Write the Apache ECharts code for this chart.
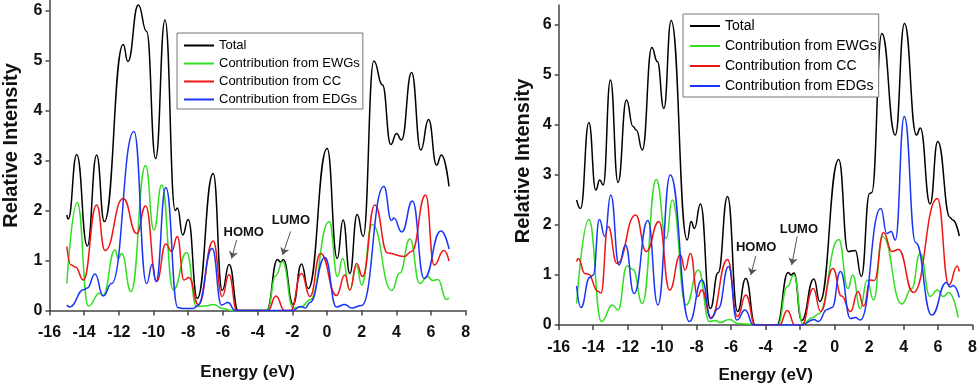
<!DOCTYPE html>
<html>
<head>
<meta charset="utf-8">
<script src="https://cdn.jsdelivr.net/npm/echarts@6.0.0/dist/echarts.min.js"></script>
<style>
  html, body { margin: 0; padding: 0; background: #fff; }
  #chart { width: 980px; height: 389px; }
</style>
</head>
<body>
<div id="chart"></div>
<script>
// 左图 [能量 eV, 相对强度]
const leftTotal = [[-15.0,1.91],[-14.92,1.83],[-14.43,3.12],[-13.82,1.29],[-13.28,3.11],[-12.84,1.78],[-11.75,5.32],[-11.48,4.98],[-10.88,6.11],[-10.4,5.58],[-9.88,3.04],[-9.34,5.81],[-8.75,2.0],[-8.62,2.05],[-8.32,1.51],[-8.0,1.82],[-7.48,0.24],[-6.56,2.74],[-6.04,0.4],[-5.64,0.92],[-5.12,0],[-3.48,0],[-2.85,1.02],[-2.68,0.97],[-2.52,1.02],[-1.95,0.12],[-1.47,0.93],[-1.08,0.44],[0.01,3.24],[0.59,1.04],[0.93,1.81],[1.32,0.74],[1.74,1.92],[2.09,1.48],[2.7,4.99],[3.2,4.51],[3.68,3.32],[4.01,3.54],[4.3,3.41],[4.88,4.76],[5.41,3.21],[5.86,3.82],[6.32,2.91],[6.6,3.11],[7.04,2.48]];
const leftEWG = [[-15.0,0.54],[-14.4,2.16],[-13.76,0.09],[-13.1,0.35],[-12.92,0.3],[-12.22,1.21],[-12.03,1.04],[-11.84,1.14],[-11.3,0.38],[-10.46,2.9],[-9.98,1.61],[-9.53,2.51],[-8.86,0.41],[-8.09,1.16],[-7.52,0.08],[-7.0,0.09],[-6.56,0.12],[-6.0,0.04],[-5.5,0],[-3.45,0],[-2.94,0.7],[-2.56,0.98],[-1.95,0.05],[-1.5,0.07],[-0.98,0.21],[0.13,1.78],[0.61,0.68],[0.9,1.04],[1.32,0.41],[1.71,0.89],[2.0,0.51],[2.61,1.72],[3.73,0.4],[4.2,0.75],[4.78,1.43],[5.35,0.54],[5.8,0.68],[6.1,0.6],[6.4,0.62],[6.89,0.22],[7.03,0.25]];
const leftCC = [[-15.0,1.28],[-14.76,0.91],[-14.5,0.87],[-14.05,0.61],[-13.28,2.11],[-12.8,1.2],[-11.75,2.24],[-10.97,1.54],[-10.46,2.09],[-9.82,0.58],[-9.29,1.33],[-8.96,1.18],[-8.63,1.48],[-8.25,0.61],[-7.96,0.66],[-7.42,0.12],[-6.56,1.39],[-6.04,0.28],[-5.65,0.72],[-5.2,0],[-3.4,0],[-2.94,0.29],[-2.45,0],[-2.1,0],[-1.47,0.74],[-0.98,0.28],[-0.37,1.14],[0.55,0.3],[1.03,0.71],[1.32,0.41],[1.71,0.94],[2.05,0.68],[2.76,2.11],[3.5,1.15],[4.45,1.08],[4.88,1.18],[5.69,2.31],[6.18,0.91],[6.74,1.2],[7.04,0.99]];
const leftEDG = [[-15.0,0.11],[-14.85,0.07],[-14.0,0.42],[-13.82,0.45],[-13.38,0.73],[-12.9,0.29],[-12.42,0.54],[-11.13,3.58],[-10.4,0.54],[-10.07,0.93],[-9.86,0.58],[-9.29,2.46],[-8.6,0.06],[-8.3,0.04],[-7.7,0.04],[-7.45,0.1],[-6.62,1.24],[-6.08,0.11],[-5.7,0.16],[-5.3,0],[-2.0,0],[-1.5,0.08],[-1.25,0.05],[-0.98,0.16],[-0.12,1.06],[0.55,0.07],[1.03,0.12],[1.42,0.05],[2.0,0.1],[3.28,2.48],[3.72,1.8],[3.85,1.85],[4.32,1.57],[4.93,2.19],[5.6,0.64],[6.57,1.59],[7.04,1.23]];

// 右图
const rightTotal = [[-14.96,2.5],[-14.73,2.33],[-14.25,4.05],[-13.85,2.7],[-13.62,2.9],[-13.42,2.8],[-13.0,4.9],[-12.56,2.85],[-12.07,4.5],[-11.69,3.97],[-11.5,3.9],[-11.15,3.5],[-10.6,5.55],[-10.28,5.27],[-9.9,4.33],[-9.48,6.09],[-8.55,1.7],[-8.32,2.07],[-8.13,1.93],[-7.78,2.42],[-7.21,0.33],[-6.75,1.05],[-6.21,2.57],[-5.63,0.27],[-5.15,0.93],[-4.6,0],[-3.35,0],[-2.69,1.05],[-2.52,1.0],[-2.36,1.04],[-1.91,0.09],[-1.2,0.92],[-0.86,0.47],[0.24,3.31],[0.78,1.47],[1.2,1.49],[1.55,0.97],[2.03,2.63],[2.15,2.65],[2.74,5.83],[3.52,3.8],[4.05,6.03],[4.75,3.8],[4.97,3.94],[5.54,2.42],[5.98,3.67],[6.7,2.15],[6.85,2.1],[7.23,1.78]];
const rightEWG = [[-14.96,0.43],[-14.25,2.11],[-13.52,0.07],[-12.88,0.4],[-12.56,0.3],[-12.04,1.18],[-11.69,1.11],[-11.15,0.43],[-10.34,2.91],[-9.76,1.73],[-9.42,2.5],[-8.61,0.4],[-7.9,1.1],[-7.26,0.07],[-6.9,0.09],[-6.65,0.05],[-6.1,0.11],[-5.6,0.03],[-4.6,0.01],[-3.3,0],[-2.74,0.77],[-2.36,1.0],[-1.85,0.03],[-1.25,0.15],[-0.95,0.22],[0.24,1.71],[0.78,0.73],[1.05,1.0],[1.49,0.33],[1.88,0.9],[2.26,0.5],[2.78,1.77],[3.9,0.42],[4.47,0.73],[4.96,1.43],[5.54,0.57],[5.96,0.7],[6.3,0.57],[6.63,0.65],[7.17,0.15]];
const rightCC = [[-14.96,1.27],[-14.87,1.33],[-14.48,1.03],[-14.3,1.02],[-13.71,0.67],[-13.55,0.64],[-13.14,1.97],[-12.62,1.23],[-11.54,2.2],[-10.92,1.47],[-10.19,2.07],[-9.57,0.7],[-8.94,1.4],[-8.67,1.1],[-8.36,1.43],[-7.94,0.57],[-7.71,0.7],[-7.17,0.15],[-6.21,1.31],[-5.63,0.17],[-5.15,0.6],[-4.6,0],[-3.2,0],[-2.74,0.29],[-2.3,0],[-1.9,0],[-1.24,0.73],[-0.81,0.27],[-0.1,1.13],[0.4,0.58],[0.92,0.27],[1.36,0.67],[1.69,0.38],[2.07,0.9],[2.3,0.89],[2.84,1.85],[3.32,1.47],[3.7,1.51],[4.57,0.65],[5.96,2.53],[6.63,0.8],[7.11,1.18],[7.23,1.07]];
const rightEDG = [[-14.96,0.78],[-14.71,0.35],[-14.2,0.95],[-14.0,1.0],[-13.64,2.11],[-13.33,1.77],[-12.98,2.6],[-12.5,1.2],[-12.13,1.6],[-11.63,0.63],[-10.83,2.09],[-10.25,0.4],[-9.53,3.0],[-8.42,0.07],[-7.69,0.9],[-7.17,0.13],[-6.75,0.33],[-6.15,1.17],[-5.67,0.1],[-5.19,0.3],[-4.7,0],[-1.9,0],[-1.2,0.11],[-0.95,0.07],[-0.43,0.31],[-0.15,0.35],[0.34,1.07],[0.92,0.13],[1.2,0.15],[1.49,0.1],[2.68,2.33],[3.03,1.83],[3.28,1.87],[3.52,1.7],[4.04,4.17],[4.7,1.65],[5.63,0.2],[6.49,0.85],[6.69,0.76],[6.88,0.79],[7.23,0.55]];

const seriesNames = ['Total', 'Contribution from EWGs', 'Contribution from CC', 'Contribution from EDGs'];
const yTicks = [0, 1, 2, 3, 4, 5, 6];

// HOMO / LUMO 标注：文字位置 + 箭头起止
const leftNotes = [
  { text: 'HOMO', at: [-4.8, 1.56], from: [-5.21, 1.41], to: [-5.5, 1.04] },
  { text: 'LUMO', at: [-2.08, 1.81], from: [-2.1, 1.58], to: [-2.56, 1.11] }
];
const rightNotes = [
  { text: 'HOMO', at: [-4.55, 1.56], from: [-4.57, 1.38], to: [-4.86, 1.0] },
  { text: 'LUMO', at: [-2.07, 1.92], from: [-2.17, 1.77], to: [-2.49, 1.2] }
];

const FONT = 'Liberation Sans, Arial, sans-serif';
const colors = ['#000000', '#33dd22', '#f01515', '#1a35f5'];

function lineSeries(name, data, color, idx, notes) {
  const s = {
    name: name,
    type: 'line',
    xAxisIndex: idx,
    yAxisIndex: idx,
    data: data,
    symbol: 'none',
    smooth: 0.5,
    smoothMonotone: 'x',
    lineStyle: { color: color, width: 1.5 },
    itemStyle: { color: color },
    silent: true
  };
  if (notes) {
    s.markPoint = {
      silent: true,
      symbol: 'circle',
      symbolSize: 1,
      itemStyle: { color: 'rgba(0,0,0,0)' },
      label: {
        show: true, position: 'inside', formatter: '{b}',
        fontFamily: FONT, fontWeight: 'bold', fontSize: 13, color: '#111'
      },
      data: notes.map(n => ({ name: n.text, coord: n.at }))
    };
    s.markLine = {
      silent: true,
      symbol: ['none', 'arrow'],
      symbolSize: 7,
      label: { show: false },
      lineStyle: { color: '#555', width: 1, type: 'solid' },
      data: notes.map(n => [{ coord: n.from }, { coord: n.to }])
    };
  }
  return s;
}

function xAxisOf(idx, labelMargin, nameGap, namePad) {
  return {
    type: 'value', gridIndex: idx, min: -16, max: 8, interval: 2,
    name: 'Energy (eV)', nameLocation: 'middle', nameGap: nameGap,
    nameTextStyle: { fontFamily: FONT, fontWeight: 'bold', fontSize: 17, color: '#111', padding: namePad },
    axisLine: { onZero: false, lineStyle: { color: '#444', width: 1.5 } },
    axisTick: { length: 5, lineStyle: { color: '#444', width: 1.5 } },
    axisLabel: { margin: labelMargin, fontFamily: FONT, fontWeight: 'bold', fontSize: 16, color: '#111' },
    splitLine: { show: false }
  };
}

function yAxisOf(idx, max, nameGap, namePad) {
  return {
    type: 'value', gridIndex: idx, min: 0, max: max,
    name: 'Relative Intensity', nameLocation: 'middle', nameGap: nameGap,
    nameTextStyle: { fontFamily: FONT, fontWeight: 'bold', fontSize: 20, color: '#111', padding: namePad },
    axisLine: { show: true, onZero: false, lineStyle: { color: '#444', width: 1.5 } },
    axisTick: { show: true, length: 4, customValues: yTicks, lineStyle: { color: '#444', width: 1.5 } },
    axisLabel: { margin: 7, customValues: yTicks, fontFamily: FONT, fontWeight: 'bold', fontSize: 16, color: '#111' },
    splitLine: { show: false }
  };
}

function legendOf(left, top, fontSize, gap, pad) {
  return {
    orient: 'vertical', left: left, top: top,
    data: seriesNames.map(n => ({ name: n, icon: 'rect' })),
    selectedMode: false,
    itemWidth: 30, itemHeight: 2, itemGap: gap, itemTextGap: 4,
    padding: pad,
    borderColor: '#777', borderWidth: 1, backgroundColor: '#fff',
    textStyle: { fontFamily: FONT, fontSize: fontSize, color: '#000' }
  };
}

const chart = echarts.init(document.getElementById('chart'), null, { renderer: 'canvas' });
chart.setOption({
  animation: false,
  backgroundColor: '#fff',
  grid: [
    { left: 49.5, top: 0.5, width: 416.2, height: 310 },
    { left: 558.7, top: 5, width: 415.6, height: 320 }
  ],
  xAxis: [xAxisOf(0, 14, 53, [0, 20, 0, 0]), xAxisOf(1, 15, 42, [0, 0, 0, 0])],
  yAxis: [yAxisOf(0, 6.2, 28, [0, 0, 0, 20]), yAxisOf(1, 6.4, 25, [0, 0, 0, 8])],
  legend: [
    legendOf(177, 33, 13, 5, [6, 3, 3, 7]),
    legendOf(683, 14, 14, 6, [5, 2, 4, 7])
  ],
  series: [
    lineSeries(seriesNames[0], leftTotal, colors[0], 0, leftNotes),
    lineSeries(seriesNames[1], leftEWG, colors[1], 0),
    lineSeries(seriesNames[2], leftCC, colors[2], 0),
    lineSeries(seriesNames[3], leftEDG, colors[3], 0),
    lineSeries(seriesNames[0], rightTotal, colors[0], 1, rightNotes),
    lineSeries(seriesNames[1], rightEWG, colors[1], 1),
    lineSeries(seriesNames[2], rightCC, colors[2], 1),
    lineSeries(seriesNames[3], rightEDG, colors[3], 1)
  ]
});
</script>
</body>
</html>
